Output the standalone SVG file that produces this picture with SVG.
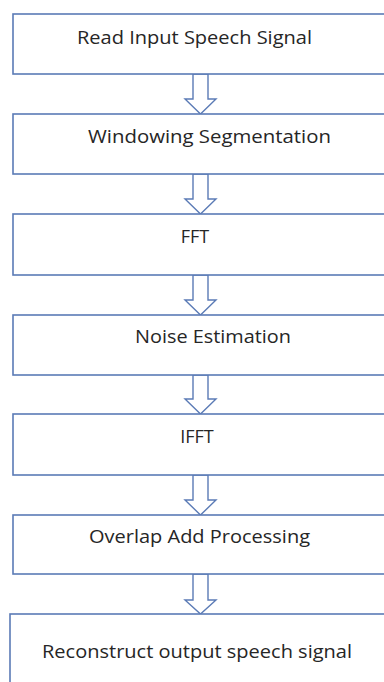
<svg xmlns="http://www.w3.org/2000/svg" width="384" height="682" viewBox="0 0 384 682">
<style>
.box{fill:#ffffff;stroke:#5b7bb6;stroke-width:1.6}
.arr{fill:#ffffff;stroke:#5b7bb6;stroke-width:1.4;stroke-linejoin:miter}
.t{font-family:"Open Sans","Liberation Sans",sans-serif;font-size:18px;fill:#262626}
.c{text-anchor:middle}
</style>
<rect width="384" height="682" fill="#ffffff"/>
<g id="connectors">
<polygon class="arr" points="193,74 208,74 208,99 216,99 200.5,114 185,99 193,99"/>
<polygon class="arr" points="193,174 208,174 208,199 216,199 200.5,214 185,199 193,199"/>
<polygon class="arr" points="193,275 208,275 208,300 216,300 200.5,315 185,300 193,300"/>
<polygon class="arr" points="193,375 208,375 208,399 216,399 200.5,414 185,399 193,399"/>
<polygon class="arr" points="193,475 208,475 208,500 216,500 200.5,515 185,500 193,500"/>
<polygon class="arr" points="193,574 208,574 208,600 216,600 200.5,614 185,600 193,600"/>
</g>
<g id="n1"><rect class="box" x="13" y="14" width="400" height="60"/><text class="t" x="77" y="44" textLength="235" lengthAdjust="spacingAndGlyphs">Read Input Speech Signal</text></g>
<g id="n2"><rect class="box" x="13" y="114" width="400" height="60"/><text class="t" x="88" y="143" textLength="243" lengthAdjust="spacingAndGlyphs">Windowing Segmentation</text></g>
<g id="n3"><rect class="box" x="13" y="214" width="400" height="61"/><text class="t c" x="195" y="243">FFT</text></g>
<g id="n4"><rect class="box" x="13" y="315" width="400" height="60"/><text class="t" x="135" y="343" textLength="156" lengthAdjust="spacingAndGlyphs">Noise Estimation</text></g>
<g id="n5"><rect class="box" x="13" y="414" width="400" height="61"/><text class="t c" x="197" y="443">IFFT</text></g>
<g id="n6"><rect class="box" x="13" y="515" width="400" height="59"/><text class="t" x="89" y="543" textLength="221" lengthAdjust="spacingAndGlyphs">Overlap Add Processing</text></g>
<g id="n7"><rect class="box" x="10" y="614" width="400" height="100"/><text class="t" x="42" y="658" textLength="310" lengthAdjust="spacingAndGlyphs">Reconstruct output speech signal</text></g>
</svg>
